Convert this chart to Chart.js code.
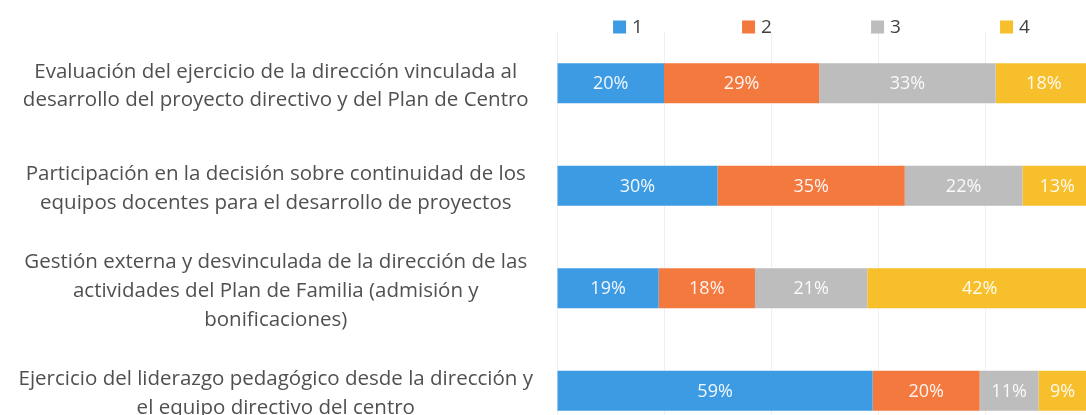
<!DOCTYPE html>
<html>
<head>
<meta charset="utf-8">
<script src="https://cdn.jsdelivr.net/npm/chart.js@4.4.0/dist/chart.umd.min.js"></script>
<style>
  html, body { margin: 0; padding: 0; background: #fff; overflow: hidden; }
  canvas { display: block; }
</style>
</head>
<body>
<canvas id="chart" width="1100" height="445"></canvas>
<script>
// Categories (one per bar), each split into lines
const categories = [
  ["Evaluación del ejercicio de la dirección vinculada al", "desarrollo del proyecto directivo y del Plan de Centro"],
  ["Participación en la decisión sobre continuidad de los", "equipos docentes para el desarrollo de proyectos"],
  ["Gestión externa y desvinculada de la dirección de las", "actividades del Plan de Familia (admisión y", "bonificaciones)"],
  ["Ejercicio del liderazgo pedagógico desde la dirección y", "el equipo directivo del centro"]
];

// Series names and values (percent)
const seriesNames = ["1", "2", "3", "4"];
const values1 = [20, 30, 19, 59];
const values2 = [29, 35, 18, 20];
const values3 = [33, 22, 21, 11];
const values4 = [18, 13, 42, 9];
const seriesColors = ["#3d9be3", "#f4793f", "#bdbdbd", "#f7bf2c"];

const fontFamily = "'Open Sans', Lato, sans-serif";

// Draws the % value in the middle of each bar segment
const barValueLabels = {
  id: "barValueLabels",
  afterDatasetsDraw(chart) {
    const ctx = chart.ctx;
    ctx.save();
    ctx.font = "18px " + fontFamily;
    ctx.fillStyle = "rgba(255,255,255,0.92)";
    ctx.textAlign = "center";
    ctx.textBaseline = "middle";
    chart.data.datasets.forEach((ds, i) => {
      chart.getDatasetMeta(i).data.forEach((bar, j) => {
        const { x, y, base } = bar.getProps(["x", "y", "base"], true);
        ctx.fillText(ds.data[j] + "%", (x + base) / 2, y + 1);
      });
    });
    ctx.restore();
  }
};

// Legend centred over the plot area
const plotLegend = {
  id: "plotLegend",
  afterDraw(chart) {
    const ctx = chart.ctx;
    const area = chart.chartArea;
    const pitch = 129;
    const box = 13;
    const n = chart.data.datasets.length;
    ctx.save();
    ctx.font = "19px " + fontFamily;
    ctx.textBaseline = "middle";
    const lastText = ctx.measureText(chart.data.datasets[n - 1].label).width;
    const total = pitch * (n - 1) + box + 6 + lastText;
    let x = (area.left + area.right) / 2 - total / 2 - 3;
    const y = 27;
    chart.data.datasets.forEach(ds => {
      ctx.fillStyle = ds.backgroundColor;
      ctx.fillRect(x, y - box / 2, box, box);
      ctx.fillStyle = "#404040";
      ctx.fillText(ds.label, x + box + 6, y + 1);
      x += pitch;
    });
    ctx.restore();
  }
};

const allValues = [values1, values2, values3, values4];

new Chart(document.getElementById("chart"), {
  type: "bar",
  data: {
    labels: categories,
    datasets: seriesNames.map((name, i) => ({
      label: name,
      data: allValues[i],
      backgroundColor: seriesColors[i],
      borderWidth: 0,
      barPercentage: 0.39,
      categoryPercentage: 1
    }))
  },
  options: {
    indexAxis: "y",
    responsive: false,
    animation: false,
    layout: { padding: { top: 32, right: 8, bottom: 3, left: 0 } },
    plugins: {
      legend: { display: false },
      tooltip: { enabled: false }
    },
    scales: {
      x: {
        stacked: true,
        min: 0,
        max: 100,
        ticks: { display: false, stepSize: 20 },
        grid: { color: "#efefef", drawTicks: false },
        border: { display: false }
      },
      y: {
        stacked: true,
        grid: { display: false },
        border: { display: false },
        ticks: {
          color: "#505050",
          crossAlign: "center",
          padding: 16,
          labelOffset: 3,
          font: { family: fontFamily, size: 20.5, lineHeight: 1.4 }
        },
        afterFit(scale) {
          scale.width = 557;
          scale.paddingTop = 0;
          scale.paddingBottom = 0;
        }
      }
    }
  },
  plugins: [barValueLabels, plotLegend]
});
</script>
</body>
</html>
